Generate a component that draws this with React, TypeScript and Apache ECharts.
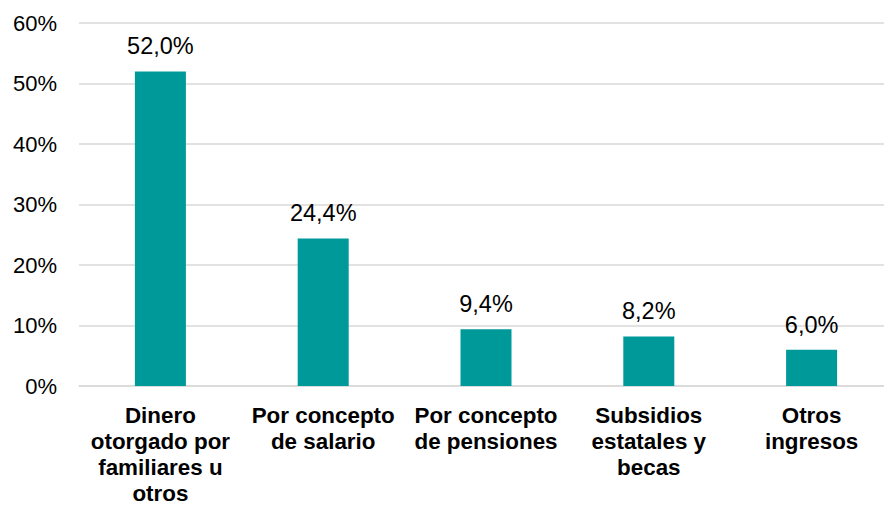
import React, { useEffect, useRef } from "react";
import * as echarts from "echarts";

const categories = [
  "Dinero\notorgado por\nfamiliares u\notros",
  "Por concepto\nde salario",
  "Por concepto\nde pensiones",
  "Subsidios\nestatales y\nbecas",
  "Otros\ningresos",
];
const values = [52.0, 24.4, 9.4, 8.2, 6.0];
const yTicks = { min: 0, max: 60, interval: 10 };

export default function App() {
  const ref = useRef<HTMLDivElement>(null);
  useEffect(() => {
    if (!ref.current) return;
    const chart = echarts.init(ref.current, null, { renderer: "svg" });
    chart.setOption({
      animation: false,
      textStyle: { fontFamily: "Liberation Sans, Arial, sans-serif" },
      grid: { left: 79, right: 0, top: 23, bottom: 120, containLabel: false },
      xAxis: {
        type: "category",
        data: categories,
        axisLine: { show: true, lineStyle: { color: "#d9d9d9", width: 1.5 } },
        axisTick: { show: false },
        axisLabel: {
          interval: 0,
          margin: 16,
          color: "#000",
          fontSize: 22.4,
          fontWeight: "bold",
          lineHeight: 26,
          fontFamily: "Liberation Sans, Arial, sans-serif",
        },
      },
      yAxis: {
        type: "value",
        min: yTicks.min,
        max: yTicks.max,
        interval: yTicks.interval,
        axisLine: { show: false },
        axisTick: { show: false },
        splitLine: { lineStyle: { color: "#d9d9d9", width: 1.5 } },
        axisLabel: {
          formatter: "{value}%",
          color: "#000",
          fontSize: 22,
          margin: 22,
          fontFamily: "Liberation Sans, Arial, sans-serif",
        },
      },
      series: [
        {
          type: "bar",
          data: values,
          barWidth: 51,
          itemStyle: { color: "#009999" },
          label: {
            show: true,
            position: "top",
            distance: 13,
            color: "#000",
            fontSize: 23.5,
            fontFamily: "Liberation Sans, Arial, sans-serif",
            formatter: (p: any) => p.value.toFixed(1).replace(".", ",") + "%",
          },
        },
      ],
    });
    return () => chart.dispose();
  }, []);
  return (
    <div
      style={{ position: "fixed", left: 0, top: 0, width: 884, height: 506, overflow: "hidden", background: "#fff" }}
    >
      <div ref={ref} style={{ width: 893, height: 506 }} />
    </div>
  );
}
